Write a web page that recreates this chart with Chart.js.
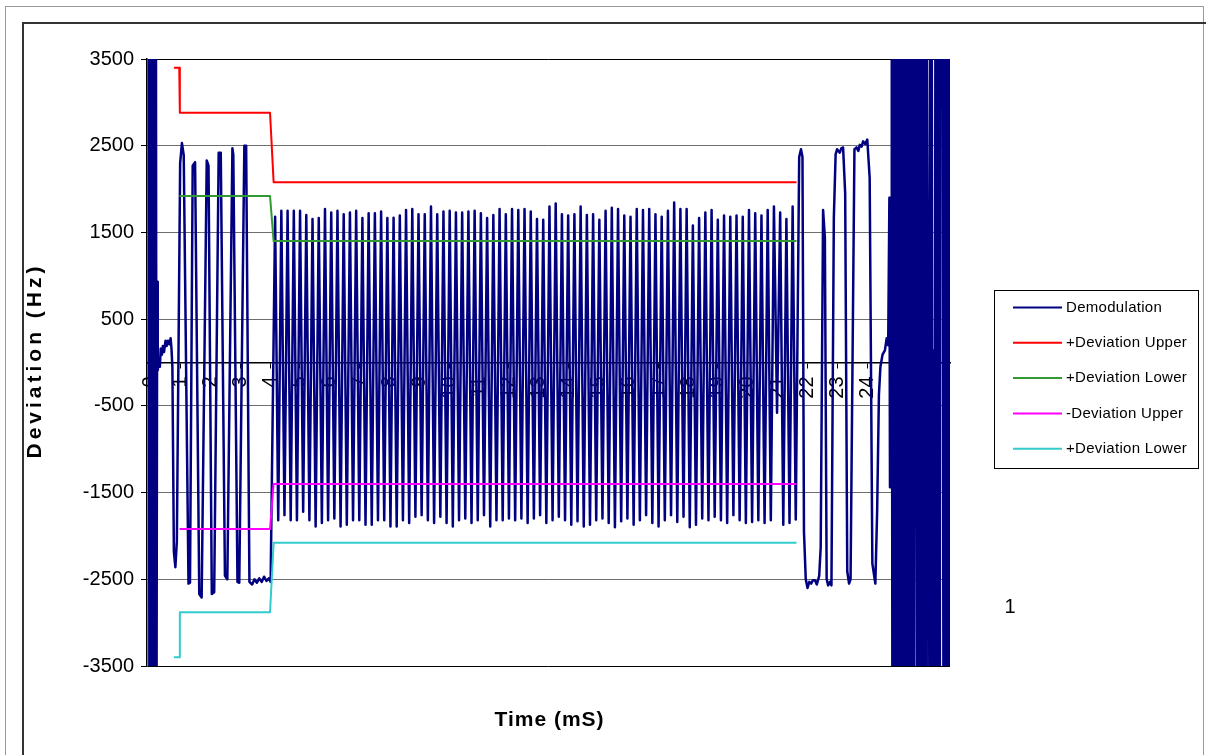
<!DOCTYPE html>
<html>
<head>
<meta charset="utf-8">
<title>Demodulation</title>
<script src="https://cdn.jsdelivr.net/npm/chart.js@4.4.1/dist/chart.umd.min.js"></script>
<style>
  html, body { margin: 0; padding: 0; background: #ffffff; }
  canvas { display: block; }
</style>
</head>
<body>
<canvas id="chart" width="1206" height="755"></canvas>
<script>
// Axis tick labels
const timeTicks = [0, 1, 2, 3, 4, 5, 6, 7, 8, 9, 10, 11, 12, 13, 14, 15, 16, 17, 18, 19, 20, 21, 22, 23, 24, 25, 26];
const devTicks = [-3500, -2500, -1500, -500, 500, 1500, 2500, 3500];

// Demodulated frequency (Hz) against time (ms)
// Start-up transient and idle carrier
const leadTime = [-0.06, -0.04, -0.02, 0.00, 0.02, 0.04, 0.06, 0.08, 0.10, 0.12, 0.14, 0.16, 0.18, 0.20,
  0.22, 0.24, 0.27, 0.31, 0.34, 0.38, 0.41, 0.45, 0.50, 0.54, 0.58, 0.63, 0.67, 0.70, 0.73, 0.78, 0.83, 0.88];
const leadHz = [3800, -3800, 3800, -3800, 3800, -3800, 2230, -3800, 3800, -3800, 3800, -3800, 3800, -3800,
  930, -90, 50, -50, 160, 90, 190, 120, 250, 190, 250, 210, 280, 160, -50, -2180, -2360, -2060];

// Preamble at wide deviation, then settling low
const burstTime = [0.99, 1.05, 1.11, 1.27, 1.32, 1.41, 1.49, 1.63, 1.71, 1.88, 1.94, 2.05, 2.13, 2.28, 2.35,
  2.49, 2.57, 2.74, 2.77, 2.91, 2.97, 3.14, 3.20, 3.31, 3.40, 3.48, 3.56, 3.64, 3.72, 3.80, 3.88, 3.96, 4.02];
const burstHz = [2300, 2530, 2390, -2550, -2540, 2270, 2310, -2670, -2710, 2330, 2270, -2670, -2650, 2420, 2420,
  -2460, -2500, 2470, 2400, -2530, -2540, 2500, 2500, -2530, -2560, -2500, -2540, -2490, -2530, -2470, -2520, -2490, -2530];

// Data section: alternating peaks and troughs, one extreme every half period
const TONE_START = 4.17;
const TONE_HALF_PERIOD = 0.1044;
const tonePeakHz = [
  1680, 1750, 1750, 1750, 1750, 1700, 1655, 1665, 1770, 1730, 1750, 1710, 1730, 1750, 1665, 1720, 1720, 1740, 1665, 1670, 1695,
  1760, 1770, 1710, 1710, 1800, 1710, 1740, 1750, 1730, 1730, 1740, 1750, 1720, 1665, 1700, 1770, 1710, 1770, 1760, 1770, 1740,
  1655, 1645, 1800, 1835, 1710, 1695, 1710, 1800, 1700, 1710, 1645, 1750, 1785, 1770,
  1695, 1680, 1770, 1760, 1770, 1710, 1680, 1750, 1845, 1770, 1770, 1580, 1665, 1730,
  1760, 1645, 1695, 1680, 1695, 1680, 1760, 1720, 1695, 1760, 1800, 1730, 1655, 1800];
const toneTroughHz = [
  -1820, -1760, -1820, -1820, -1720, -1820, -1890, -1850, -1820, -1800, -1890, -1870, -1820, -1820, -1870, -1870, -1820, -1820, -1890, -1890, -1820,
  -1850, -1780, -1760, -1820, -1850, -1780, -1850, -1890, -1820, -1800, -1850, -1820, -1760, -1890, -1820, -1820, -1800, -1820, -1800, -1850, -1800,
  -1760, -1850, -1820, -1780, -1820, -1870, -1830, -1890, -1870, -1820, -1800, -1850, -1900, -1830,
  -1800, -1870, -1820, -1760, -1850, -1890, -1820, -1760, -1840, -1780, -1900, -1870, -1800, -1820,
  -1780, -1820, -1850, -1760, -1820, -1850, -1840, -1820, -1850, -1820, -580, -1870, -1850, -1810];

// End of frame
const tailTime = [21.72, 21.78, 21.83, 21.88, 21.94, 22.00, 22.06, 22.12, 22.18, 22.25, 22.31, 22.39, 22.44, 22.52, 22.58,
  22.64, 22.69, 22.75, 22.80, 22.88, 22.94, 22.99, 23.03, 23.08, 23.13, 23.19, 23.26, 23.33, 23.39, 23.44,
  23.57, 23.64, 23.70, 23.75, 23.81, 23.86, 23.93, 24.00, 24.08, 24.17, 24.27, 24.33, 24.39, 24.44, 24.51, 24.59, 24.65, 24.70];
const tailHz = [2370, 2460, 2370, -1950, -2500, -2600, -2530, -2550, -2510, -2510, -2560, -2460, -2130, 1760, 1440,
  -2500, -2570, -2530, -2570, 1670, 2400, 2460, 2440, 2420, 2470, 2480, 1950, -2410, -2550, -2500,
  2460, 2480, 2440, 2510, 2490, 2550, 2520, 2570, 2130, -2320, -2550, -1720, -370, -50, 90, 140, 280, 200];

// Carrier off: discriminator noise
const noiseTime = [24.74, 24.76, 24.78, 24.80, 24.82,
  24.84, 24.87, 24.90, 24.93, 24.96, 24.99, 25.02, 25.05, 25.08, 25.11, 25.14, 25.17, 25.20,
  25.23, 25.26, 25.29, 25.32, 25.35, 25.38, 25.41, 25.44, 25.47, 25.50, 25.53, 25.56, 25.59,
  25.61, 25.63, 25.66, 25.69, 25.72, 25.75, 25.79, 25.82, 25.85, 25.88, 25.91, 25.94, 25.97, 25.99,
  26.06, 26.08, 26.10, 26.13, 26.16, 26.19, 26.23, 26.26, 26.28, 26.31, 26.34, 26.37, 26.40, 26.43, 26.44,
  26.52, 26.55, 26.58, 26.61, 26.64, 26.66, 26.71, 26.73, 26.76, 26.79];
const noiseHz = [1900, -1440, 1900, -1440, 3800,
  -3800, 3800, -3800, 3800, -3800, 3800, -3800, 3800, -3800, 3800, -3800, 3800, -3800,
  3800, -3800, 3800, -3800, 3800, -3800, 3800, -3800, 3800, -3800, 3800, -3800, 3800,
  -1200, 3800, -3800, 3800, -3800, 3800, -3800, 3800, -3800, 3800, -3800, 3800, -3800, 3800,
  -1460, -3800, 3800, -3800, 3800, -3800, 140, -3800, 3800, -3800, 3800, -3800, 3800, -3800, 3800,
  3800, -3800, 3800, -3800, 3800, -3800, -3800, 3800, -3800, 3800];

// Deviation limits (Hz)
const plusUpperTime = [0.78, 0.96, 0.98, 4.00, 4.12, 21.63];
const plusUpperHz = [3400, 3400, 2880, 2880, 2080, 2080];
const plusLowerTime = [0.97, 4.00, 4.12, 21.63];
const plusLowerHz = [1920, 1920, 1400, 1400];
const minusUpperTime = [0.97, 4.00, 4.12, 21.63];
const minusUpperHz = [-1920, -1920, -1400, -1400];
const minusLowerTime = [0.78, 0.96, 0.98, 4.00, 4.12, 21.63];
const minusLowerHz = [-3400, -3400, -2880, -2880, -2080, -2080];

const seriesNames = ['Demodulation', '+Deviation Upper', '+Deviation Lower', '-Deviation Upper', '+Deviation Lower'];
const seriesColors = ['#000080', '#FF0000', '#339933', '#FF00FF', '#33CCCC'];
const xTitle = 'Time (mS)';
const yTitle = 'Deviation (Hz)';

function toPoints(times, values) {
  return times.map((t, i) => ({ x: t, y: values[i] }));
}

const demodPoints = [].concat(toPoints(leadTime, leadHz), toPoints(burstTime, burstHz));
for (let k = 0; k < tonePeakHz.length; k++) {
  demodPoints.push({ x: TONE_START + 2 * k * TONE_HALF_PERIOD, y: tonePeakHz[k] });
  demodPoints.push({ x: TONE_START + (2 * k + 1) * TONE_HALF_PERIOD, y: toneTroughHz[k] });
}
demodPoints.push(...toPoints(tailTime, tailHz), ...toPoints(noiseTime, noiseHz));

const FONT = "'Liberation Sans', Arial, Helvetica, sans-serif";
Chart.defaults.font.family = FONT;
Chart.defaults.color = '#000';

// Frame, axis titles, boxed legend and the stray "1" label
const chartDecor = {
  id: 'chartDecor',
  afterDraw(chart) {
    const ctx = chart.ctx;
    const area = chart.chartArea;
    ctx.save();
    ctx.strokeStyle = '#9a9a9a';
    ctx.lineWidth = 1;
    ctx.strokeRect(5.5, 6.5, 1198, 800);
    ctx.strokeStyle = '#333333';
    ctx.lineWidth = 2;
    ctx.strokeRect(23, 23, 1300, 800);

    // axis titles
    ctx.fillStyle = '#000';
    ctx.font = 'bold 21px ' + FONT;
    ctx.textAlign = 'center';
    ctx.textBaseline = 'middle';
    ctx.save();
    ctx.letterSpacing = '1px';
    ctx.fillText(xTitle, (area.left + area.right) / 2 + 1, 720);
    ctx.restore();
    ctx.save();
    ctx.translate(35, (area.top + area.bottom) / 2);
    ctx.rotate(-Math.PI / 2);
    ctx.letterSpacing = '4px';
    ctx.fillText(yTitle, 2, 0);
    ctx.restore();

    // legend
    ctx.strokeStyle = '#000';
    ctx.lineWidth = 1;
    ctx.strokeRect(994.5, 290.5, 204, 178);
    ctx.font = '15px ' + FONT;
    ctx.textBaseline = 'middle';
    ctx.textAlign = 'left';
    ctx.save();
    ctx.letterSpacing = '0.3px';
    chart.data.datasets.forEach((ds, i) => {
      const y = 307.5 + i * 35.3;
      ctx.strokeStyle = ds.borderColor;
      ctx.lineWidth = 2;
      ctx.beginPath();
      ctx.moveTo(1013, y);
      ctx.lineTo(1062, y);
      ctx.stroke();
      ctx.fillStyle = '#000';
      ctx.fillText(ds.label, 1066, y);
    });
    ctx.restore();

    ctx.font = '20px ' + FONT;
    ctx.textAlign = 'center';
    ctx.fillStyle = '#000';
    ctx.fillText('1', 1010, 607);
    ctx.restore();
  }
};

function lineSet(i, data, order, width) {
  return {
    label: seriesNames[i],
    data: data,
    borderColor: seriesColors[i],
    backgroundColor: seriesColors[i],
    borderWidth: width,
    pointRadius: 0,
    tension: 0,
    fill: false,
    borderJoinStyle: 'round',
    order: order
  };
}

new Chart(document.getElementById('chart'), {
  type: 'line',
  data: {
    datasets: [
      lineSet(0, demodPoints, 5, 2.5),
      lineSet(1, toPoints(plusUpperTime, plusUpperHz), 0, 2),
      lineSet(2, toPoints(plusLowerTime, plusLowerHz), 1, 2),
      lineSet(3, toPoints(minusUpperTime, minusUpperHz), 2, 2),
      lineSet(4, toPoints(minusLowerTime, minusLowerHz), 3, 2)
    ]
  },
  options: {
    responsive: false,
    animation: false,
    devicePixelRatio: 1,
    events: [],
    layout: { padding: { top: 59, right: 256, bottom: 89, left: 0 } },
    plugins: { legend: { display: false }, tooltip: { enabled: false } },
    scales: {
      x: {
        type: 'linear',
        position: { y: 0 },
        z: 1,
        min: -0.12,
        max: 26.77,
        afterBuildTicks: (s) => { s.ticks = timeTicks.map(v => ({ value: v })); },
        ticks: {
          autoSkip: false,
          minRotation: 90,
          maxRotation: 90,
          padding: 9,
          color: '#000',
          font: { size: 20 },
          callback: (v) => String(v)
        },
        grid: { display: true, drawOnChartArea: false, drawTicks: true, tickLength: 5, color: '#000', tickColor: '#000' },
        border: { display: true, color: '#000', width: 1.5 }
      },
      y: {
        type: 'linear',
        position: 'left',
        min: -3500,
        max: 3500,
        afterBuildTicks: (s) => { s.ticks = devTicks.map(v => ({ value: v })); },
        afterFit: (s) => { s.width = 147; },
        ticks: { padding: 7, color: '#000', font: { size: 20 }, callback: (v) => String(v) },
        grid: {
          color: (c) => (c.tick && Math.abs(c.tick.value) === 3500) ? '#000' : '#6e6e6e',
          lineWidth: 1,
          tickLength: 6,
          tickColor: '#000'
        },
        border: { display: true, color: '#000', width: 1.5 }
      }
    }
  },
  plugins: [chartDecor]
});
</script>
</body>
</html>
